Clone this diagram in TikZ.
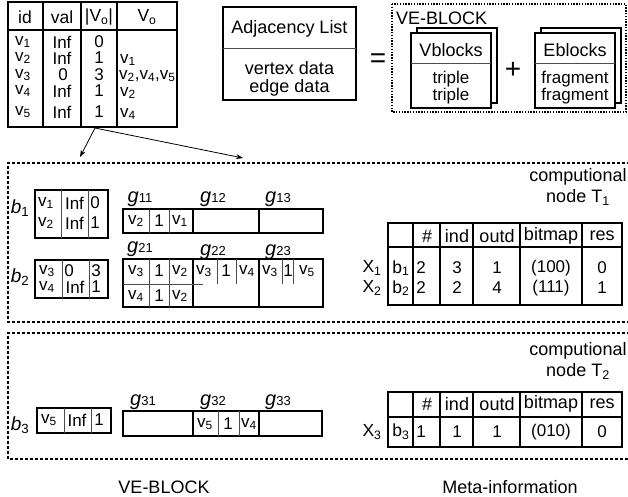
\documentclass[tikz,border=0pt]{standalone}
\usepackage{fontspec}
\setmainfont{Liberation Sans}
\usetikzlibrary{arrows.meta}
\newcommand{\fs}[1]{\fontsize{#1}{#1}\selectfont}
\newcommand{\sbs}[1]{\textsubscript{#1}}
\newcommand{\gl}[1]{\textit{g}{\fs{13}#1}}
\begin{document}
\begin{tikzpicture}[x=1pt,y=-1pt,
  tb/.style={line width=1.8pt},
  tm/.style={line width=1.2pt},
  tn/.style={line width=0.7pt, black!70},
  t16/.style={inner sep=0pt, font=\fs{17}},
  t17/.style={inner sep=0pt, font=\fs{17.5}},
  t18/.style={inner sep=0pt, font=\fs{18}},
  arr/.style={-{Stealth[length=7pt,width=5pt]}, line width=0.8pt},
  dsh/.style={line width=1.3pt, dash pattern=on 3pt off 2pt},
  dtt/.style={line width=1.3pt, dash pattern=on 1.4pt off 1.4pt}]
\useasboundingbox (0,0) rectangle (628,496);

% ---------- top-left table ----------
\draw[tb] (8,2) rectangle (177,127);
\draw[tb] (8,30) -- (177,30);
\foreach \x in {43,81,117} \draw[tm] (\x,2) -- (\x,127);
\node[t17] (hid) at (25,17) {id};
\node[t17] (hval) at (62,17) {val};
\node[t17] (hvn) at (99,17) {|V\sbs{o}|};
\node[t17] (hvo) at (147,17) {V\sbs{o}};
\node[t16] (r1a) at (23,42) {v\sbs{1}};
\node[t16] (r1b) at (62,42) {Inf};
\node[t16] (r1c) at (99,42) {0};
\node[t16] (r2a) at (23,58) {v\sbs{2}};
\node[t16] (r2b) at (62,58) {Inf};
\node[t16] (r2c) at (99,58) {1};
\node[t16,anchor=west] (r2d) at (120,60) {v\sbs{1}};
\node[t16] (r3a) at (23,75) {v\sbs{3}};
\node[t16] (r3b) at (63,75) {0};
\node[t16] (r3c) at (99,75) {3};
\node[t16,anchor=west] (r3d) at (119,76) {v\sbs{2},v\sbs{4},v\sbs{5}};
\node[t16] (r4a) at (23,91) {v\sbs{4}};
\node[t16] (r4b) at (62,91) {Inf};
\node[t16] (r4c) at (99,91) {1};
\node[t16,anchor=west] (r4d) at (120,93) {v\sbs{2}};
\node[t16] (r5a) at (23,112) {v\sbs{5}};
\node[t16] (r5b) at (62,112) {Inf};
\node[t16] (r5c) at (99,112) {1};
\node[t16,anchor=west] (r5d) at (120,114) {v\sbs{4}};

% arrows
\coordinate (src) at (95,128);
\coordinate (tgtA) at (80,157);
\coordinate (tgtB) at (243,158);
\draw[arr] (src) -- (tgtA);
\draw[arr] (src) -- (tgtB);

% ---------- adjacency list ----------
\draw[tb] (223,7) rectangle (356,100);
\draw[tn] (223,48) -- (356,48);
\node[t18] (adj) at (289.5,29) {Adjacency List};
\node[t18] (vdat) at (289.5,68) {vertex data};
\node[t18] (edat) at (289.5,88) {edge data};
\node[inner sep=0pt, font=\fs{28}] (eq) at (378,61) {=};

% ---------- VE-BLOCK ----------
\draw[dtt] (392,4) rectangle (626,112);
\node[t18,anchor=west] (veb) at (396,18) {VE-BLOCK};
\draw[tm,fill=white] (417,28) rectangle (497,103);
\draw[tb,fill=white] (411,33) rectangle (491,108);
\draw[tn] (411,63) -- (491,63);
\node[t18] (vbl) at (451,50) {Vblocks};
\node[t16] (tr1) at (451,79) {triple};
\node[t16] (tr2) at (451,96) {triple};
\node[inner sep=0pt, font=\fs{28}] (plus) at (513,70) {+};
\draw[tm,fill=white] (541,28) rectangle (621,103);
\draw[tb,fill=white] (535,33) rectangle (615,108);
\draw[tn] (535,63) -- (615,63);
\node[t18] (ebl) at (575,50) {Eblocks};
\node[t16] (fr1) at (575,79) {fragment};
\node[t16] (fr2) at (575,96) {fragment};

% ---------- dashed frames ----------
\draw[dsh] (630,163) -- (8,163) -- (8,322) -- (630,322);
\draw[dsh] (630,333) -- (8,333) -- (8,459) -- (630,459);

\node[t18,align=center] (cn1) at (578,187) {computional\\[3pt]node T\sbs{1}};
\node[t18,align=center] (cn2) at (578,361) {computional\\[3pt]node T\sbs{2}};

% ---------- b tables ----------
\node[t18,font=\fs{19}] (lb1) at (20,208) {\textit{b}\sbs{1}};
\draw[tb] (35,190) rectangle (108,238);
\draw[tn] (61,190) -- (61,238) (88,190) -- (88,238);
\node[t16] (b1a) at (46,203) {v\sbs{1}};
\node[t16] (b1b) at (74.5,203) {Inf};
\node[t16] (b1c) at (95,203) {0};
\node[t16] (b1d) at (46,223) {v\sbs{2}};
\node[t16] (b1e) at (74.5,223) {Inf};
\node[t16] (b1f) at (95,223) {1};

\node[t18,font=\fs{19}] (lb2) at (20,277) {\textit{b}\sbs{2}};
\draw[tb] (35,260) rectangle (108,298);
\draw[tn] (62,260) -- (62,298) (89,260) -- (89,298);
\node[t16] (b2a) at (47,271) {v\sbs{3}};
\node[t16] (b2b) at (69,271) {0};
\node[t16] (b2c) at (96,271) {3};
\node[t16] (b2d) at (47,287) {v\sbs{4}};
\node[t16] (b2e) at (75,287) {Inf};
\node[t16] (b2f) at (96,287) {1};

\node[t18,font=\fs{19}] (lb3) at (20,425) {\textit{b}\sbs{3}};
\draw[tb] (37,408) rectangle (111,433);
\draw[tn] (64,408) -- (64,433) (91,408) -- (91,433);
\node[t16] (b3a) at (49,420) {v\sbs{5}};
\node[t16] (b3b) at (77,420) {Inf};
\node[t16] (b3c) at (99,420) {1};

% ---------- g rows ----------
\node[t18,font=\fs{20}] (g11) at (140,199) {\gl{11}};
\node[t18,font=\fs{20}] (g12) at (213,199) {\gl{12}};
\node[t18,font=\fs{20}] (g13) at (278,199) {\gl{13}};
\draw[tb] (123,209) rectangle (323,233);
\draw[tb] (193,209) -- (193,233) (259,209) -- (259,233);
\draw[tn] (149,209) -- (149,233) (169,209) -- (169,233);
\node[t16] (c11a) at (136,221) {v\sbs{2}};
\node[t16] (c11b) at (159,221) {1};
\node[t16] (c11c) at (180,221) {v\sbs{1}};

\node[t18,font=\fs{20}] (g21) at (140,249) {\gl{21}};
\node[t18,font=\fs{20}] (g22) at (213,252) {\gl{22}};
\node[t18,font=\fs{20}] (g23) at (278,252) {\gl{23}};
\draw[tb] (123,259) rectangle (323,307);
\draw[tb] (193,259) -- (193,307) (259,259) -- (259,307);
\draw[tn] (123,284) -- (203,284);
\draw[tn] (149,259) -- (149,307) (169,259) -- (169,307);
\draw[tn] (217,259) -- (217,284) (236,259) -- (236,284);
\draw[tn] (282,259) -- (282,284) (293,259) -- (293,284);
\node[t16] (c21a) at (136,271) {v\sbs{3}};
\node[t16] (c21b) at (159,271) {1};
\node[t16] (c21c) at (180,271) {v\sbs{2}};
\node[t16] (c21d) at (136,296) {v\sbs{4}};
\node[t16] (c21e) at (159,296) {1};
\node[t16] (c21f) at (180,296) {v\sbs{2}};
\node[t16] (c22a) at (204,271) {v\sbs{3}};
\node[t16] (c22b) at (226,271) {1};
\node[t16] (c22c) at (247,271) {v\sbs{4}};
\node[t16] (c23a) at (270,271) {v\sbs{3}};
\node[t16] (c23b) at (288,271) {1};
\node[t16] (c23c) at (307,271) {v\sbs{5}};

\node[t18,font=\fs{20}] (g31) at (143,402) {\gl{31}};
\node[t18,font=\fs{20}] (g32) at (213,402) {\gl{32}};
\node[t18,font=\fs{20}] (g33) at (278,402) {\gl{33}};
\draw[tb] (123,411) rectangle (322,436);
\draw[tb] (193,411) -- (193,436) (259,411) -- (259,436);
\draw[tn] (218,411) -- (218,436) (239,411) -- (239,436);
\node[t16] (c32a) at (205,424) {v\sbs{5}};
\node[t16] (c32b) at (228,424) {1};
\node[t16] (c32c) at (249,424) {v\sbs{4}};

% ---------- meta table 1 ----------
\draw[tb] (388,223) rectangle (622,305);
\draw[tb] (388,247) -- (622,247);
\foreach \x in {413,440,473,520,582} \draw[tm] (\x,223) -- (\x,305);
\node[t18] (m1h1) at (427,236) {\#};
\node[t18] (m1h2) at (457,236) {ind};
\node[t18] (m1h3) at (497,236) {outd};
\node[t18] (m1h4) at (551,236) {bitmap};
\node[t18] (m1h5) at (602,236) {res};
\node[t17] (x1) at (372,268) {X\sbs{1}};
\node[t17] (m1a) at (401,268) {b\sbs{1}};
\node[t16] (m1b) at (421,268) {2};
\node[t16] (m1c) at (457,268) {3};
\node[t16] (m1d) at (497,268) {1};
\node[t16] (m1e) at (551,268) {(100)};
\node[t16] (m1f) at (602,268) {0};
\node[t17] (x2) at (372,288) {X\sbs{2}};
\node[t17] (m2a) at (401,288) {b\sbs{2}};
\node[t16] (m2b) at (421,288) {2};
\node[t16] (m2c) at (457,288) {2};
\node[t16] (m2d) at (497,288) {4};
\node[t16] (m2e) at (551,288) {(111)};
\node[t16] (m2f) at (602,288) {1};

% ---------- meta table 2 ----------
\draw[tb] (388,392) rectangle (622,447);
\draw[tb] (388,417) -- (622,417);
\foreach \x in {413,440,473,520,582} \draw[tm] (\x,392) -- (\x,447);
\node[t18] (m3h1) at (427,404) {\#};
\node[t18] (m3h2) at (457,404) {ind};
\node[t18] (m3h3) at (497,404) {outd};
\node[t18] (m3h4) at (551,404) {bitmap};
\node[t18] (m3h5) at (602,404) {res};
\node[t17] (x3) at (372,432) {X\sbs{3}};
\node[t17] (m3a) at (401,432) {b\sbs{3}};
\node[t16] (m3b) at (421,432) {1};
\node[t16] (m3c) at (457,432) {1};
\node[t16] (m3d) at (497,432) {1};
\node[t16] (m3e) at (551,432) {(010)};
\node[t16] (m3f) at (602,432) {0};

% ---------- captions ----------
\node[t18] (capA) at (164,487) {VE-BLOCK};
\node[t18] (capB) at (510,487) {Meta-information};
\end{tikzpicture}
\end{document}
